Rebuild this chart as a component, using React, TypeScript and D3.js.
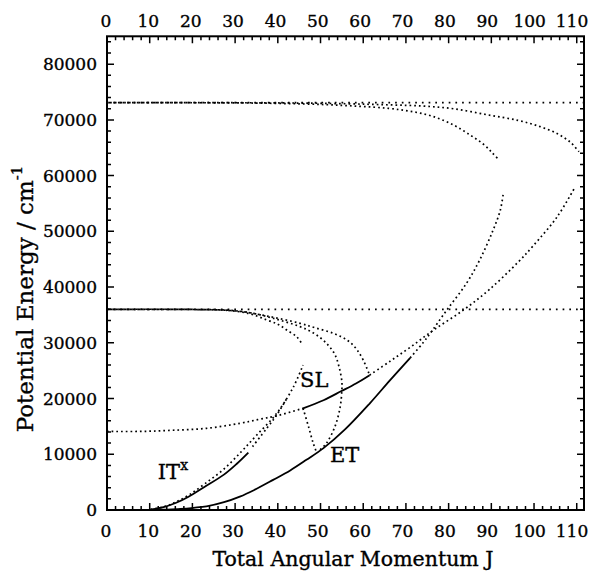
import * as d3 from 'd3';

const W = 592;
const H = 571;

// axis ticks
const xMajor = d3.range(0, 111, 10);
const xMinor = d3.range(0, 111, 2);
const yMajor = d3.range(0, 80001, 10000);
const yMinor = d3.range(0, 85000, 2000);

// asymptotic levels
const upperFlatJ = [0, 111.7];
const upperFlatE = [73100, 73100];
const lowerFlatJ = [0, 111.7];
const lowerFlatE = [36000, 36000];

// curves leaving the upper level
const upper1J = [0, 30.4, 40.6, 50.7, 58.8, 65.9, 71, 76, 81.1, 85.2, 88.2, 90.2, 91.8];
const upper1E = [73100, 73050, 72950, 72750, 72450, 72070, 71550, 70700, 69100, 67200, 65600, 64100, 62800];
const upper2J = [0, 40.6, 55.8, 65.9, 74, 81.1, 89.2, 96.3, 101.4, 105.5, 108.5, 110.5];
const upper2E = [73100, 73050, 72900, 72700, 72480, 72000, 70900, 69900, 68800, 67500, 66000, 64300];

// curves leaving the lower level
const lower1J = [0, 20.3, 28.4, 33.5, 37.4, 40.1, 42.1, 44.4, 45.6];
const lower1E = [36000, 35980, 35800, 35200, 34100, 33300, 32300, 31100, 29900];
const lower2J = [0, 20.3, 28.4, 33.5, 38.9, 45.2, 48.7, 51.4, 53.3, 54.4, 55, 55, 54.6, 53.4, 51.4, 49.9];
const lower2E = [36000, 35980, 35850, 35400, 34400, 32900, 31600, 29900, 28000, 25500, 23000, 21500, 18500, 15000, 12000, 10800];
const lower3J = [0, 20.3, 30.4, 37.5, 45.2, 48.7, 53, 56.2, 58.3, 60, 61.5];
const lower3E = [36000, 35980, 35700, 34800, 33500, 32700, 31700, 30500, 29000, 26900, 24200];

// SL branch
const slLowJ = [0, 7.7, 15.2, 23.3, 31.1, 35.8, 39.7, 45.9];
const slLowE = [14100, 14100, 14300, 14650, 15550, 16300, 16900, 18240];
const slJ = [45.9, 50.7, 54.8, 58.3, 61.5];
const slE = [18240, 19700, 21300, 22700, 24200];
const slHighJ = [61.5, 66.3, 71, 76.5, 83.5, 89.6, 96.3, 99.8, 105.4, 109.5];
const slHighE = [24200, 26700, 29200, 32300, 35900, 39600, 44500, 47400, 52600, 57800];
const slDropJ = [45.9, 47.2, 48.3, 49];
const slDropE = [18240, 14950, 11960, 10500];

// ET branch
const etJ = [11.2, 14.2, 17.2, 20.3, 23.3, 27.4, 31.1, 34.5, 38.9, 42.9, 46.7, 50.7, 55.8, 61.5, 66.3, 71];
const etE = [0, 80, 200, 400, 650, 1400, 2400, 3600, 5400, 7100, 9000, 11100, 14500, 19100, 23300, 27300];
const etHighJ = [71, 74, 75.6, 79.5, 84.2, 87.3, 90.4, 92.1, 92.8];
const etHighE = [27300, 30000, 31600, 35800, 40700, 44900, 50200, 53800, 56800];

// IT branch
const itJ = [10.4, 13.2, 16.2, 19.1, 22.9, 27.3, 30.4, 33.1];
const itE = [100, 500, 1300, 2390, 4180, 6300, 8300, 10300];
const itNearJ = [9.1, 13.2, 16.2, 19.3, 22.9, 27.3, 31.5, 35, 39.7, 43.6, 45.9];
const itNearE = [0, 550, 1450, 2750, 4700, 7300, 10500, 13400, 17300, 22000, 26000];
const itHighJ = [33.7, 37.4, 39.7, 42.1];
const itHighE = [11000, 14650, 17000, 20000];

interface Curve {
  j: number[];
  e: number[];
  kind: 'solid' | 'dots' | 'flat';
  offset?: number;
}

const curves: Curve[] = [
  { j: upperFlatJ, e: upperFlatE, kind: 'flat' },
  { j: upper1J, e: upper1E, kind: 'dots', offset: 1.5 },
  { j: upper2J, e: upper2E, kind: 'dots', offset: 3 },
  { j: lowerFlatJ, e: lowerFlatE, kind: 'flat' },
  { j: lower1J, e: lower1E, kind: 'dots', offset: 1 },
  { j: lower2J, e: lower2E, kind: 'dots', offset: 2.5 },
  { j: lower3J, e: lower3E, kind: 'dots', offset: 4 },
  { j: slLowJ, e: slLowE, kind: 'dots' },
  { j: slJ, e: slE, kind: 'solid' },
  { j: slHighJ, e: slHighE, kind: 'dots' },
  { j: slDropJ, e: slDropE, kind: 'dots' },
  { j: etJ, e: etE, kind: 'solid' },
  { j: etHighJ, e: etHighE, kind: 'dots' },
  { j: itJ, e: itE, kind: 'solid' },
  { j: itNearJ, e: itNearE, kind: 'dots' },
  { j: itHighJ, e: itHighE, kind: 'dots', offset: 2 },
];

const FONT = '"DejaVu Serif", serif';

export default function App() {
  const x = d3.scaleLinear().domain([0, 111.7]).range([107, 584]);
  const y = d3.scaleLinear().domain([0, 85000]).range([510, 36.3]);
  // tick labels sit slightly inside so that "110" fits the page
  const xLabel = d3.scaleLinear().domain([0, 110]).range([106, 572]);

  const line = d3
    .line<[number, number]>()
    .x((d) => x(d[0]))
    .y((d) => y(d[1]))
    .curve(d3.curveCatmullRom.alpha(0.5));

  const x0 = x(0), x1 = x(111.7);
  const y0 = y(0), y1 = y(85000);
  const major = 7;
  const minor = 4;

  const ticks: string[] = [];
  xMinor.forEach((v) => {
    const len = v % 10 === 0 ? major : minor;
    ticks.push(`M${x(v)},${y0}V${y0 - len}`);
    ticks.push(`M${x(v)},${y1}V${y1 + len}`);
  });
  yMinor.forEach((v) => {
    const len = v % 10000 === 0 ? major : minor;
    ticks.push(`M${x0},${y(v)}H${x0 + len}`);
    ticks.push(`M${x1},${y(v)}H${x1 - len}`);
  });

  const textStyle = { fontFamily: FONT, stroke: '#000', strokeWidth: 0.35 };

  return (
    <svg
      width={W}
      height={H}
      style={{ position: 'absolute', left: 0, top: 0, background: '#fff' }}
    >
      {curves.map((c, i) => (
        <path
          key={i}
          d={line(c.j.map((j, k) => [j, c.e[k]] as [number, number])) || ''}
          fill="none"
          stroke="#000"
          strokeWidth={c.kind === 'solid' ? 1.8 : 1.7}
          strokeDasharray={c.kind === 'solid' ? undefined : c.kind === 'flat' ? '1.7 5' : '1.7 3'}
          strokeDashoffset={c.offset || 0}
        />
      ))}

      <path d={ticks.join('')} stroke="#000" strokeWidth={1.5} fill="none" />
      <rect x={x0} y={y1} width={x1 - x0} height={y0 - y1} fill="none" stroke="#000" strokeWidth={2} />

      {xMajor.map((v) => (
        <g key={'x' + v} style={textStyle} fontSize={17} textAnchor="middle">
          <text x={xLabel(v)} y={537}>{v}</text>
          <text x={xLabel(v)} y={27}>{v}</text>
        </g>
      ))}
      {yMajor.map((v) => (
        <text key={'y' + v} x={97} y={y(v) + 6} style={textStyle} fontSize={17} textAnchor="end">
          {v}
        </text>
      ))}

      <text x={353} y={566} style={textStyle} fontSize={20.5} textAnchor="middle">
        Total Angular Momentum J
      </text>
      <text
        transform="translate(33,299) rotate(-90)"
        style={textStyle}
        fontSize={23}
        textAnchor="middle"
      >
        Potential Energy / cm
        <tspan dy={-11} fontSize={15}>-1</tspan>
      </text>

      <text x={x(11.9)} y={y(5560)} style={textStyle} fontSize={21}>
        IT
        <tspan dy={-9} fontSize={14}>x</tspan>
      </text>
      <text x={x(45.2)} y={y(22070)} style={textStyle} fontSize={21}>
        SL
      </text>
      <text x={x(52.2)} y={y(8610)} style={textStyle} fontSize={21}>
        ET
      </text>
    </svg>
  );
}
